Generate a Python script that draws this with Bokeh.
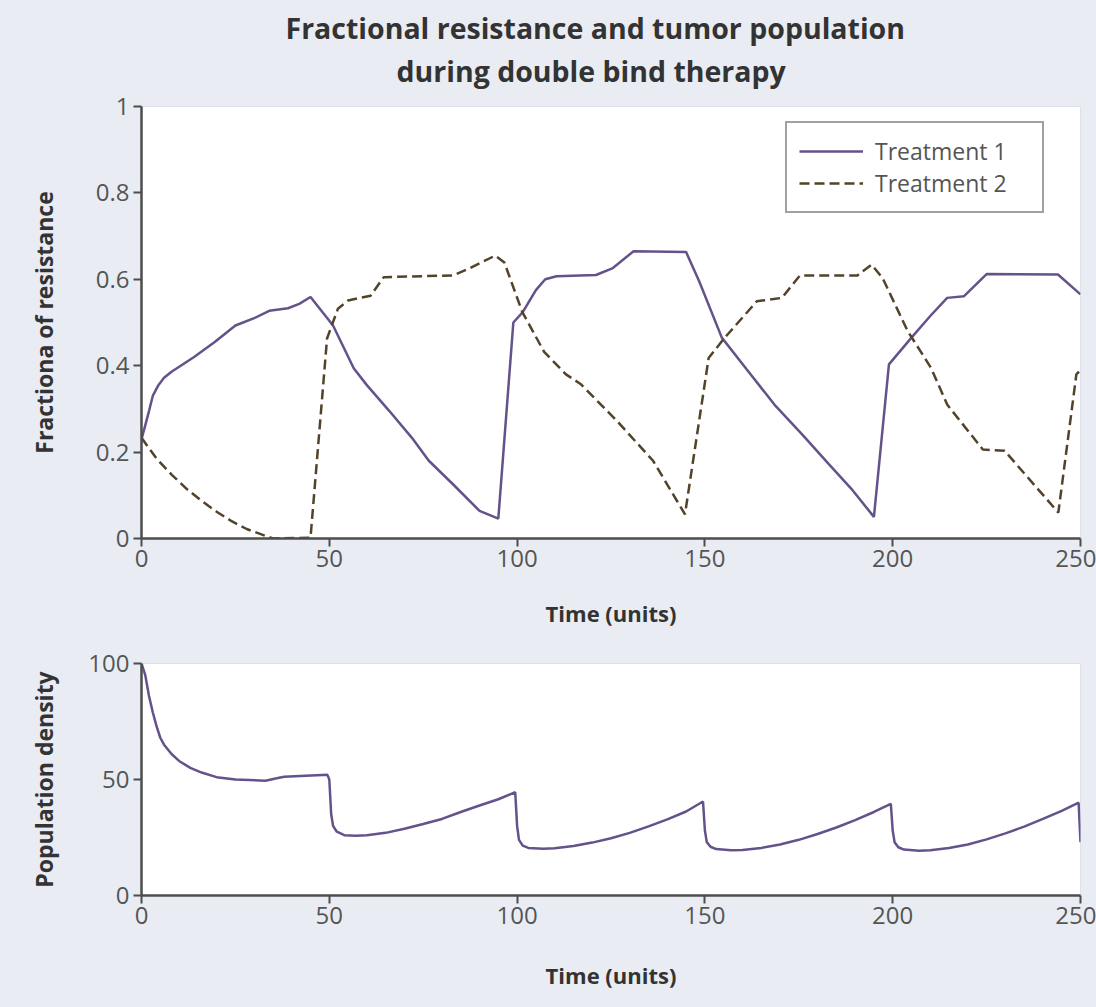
from bokeh.plotting import figure
from bokeh.models import Range1d, Title, Legend, LegendItem, FixedTicker
from bokeh.layouts import column
from bokeh.embed import file_html
from bokeh.resources import INLINE

# ---------------- data ----------------
t1_time = [0, 1, 2, 3, 4.5, 6, 8, 14, 19.5, 25, 30, 34, 39, 42, 45, 51, 56.5, 60, 66, 72, 76.5, 83, 90, 95,
           99, 101.5, 105, 107.5, 110.5, 121, 125.5, 131, 145, 148.5, 154.5, 161, 168.5, 176, 183, 189, 195,
           199, 205, 210, 214.5, 219, 225, 244, 250]
t1_frac = [0.23, 0.262, 0.295, 0.33, 0.355, 0.372, 0.386, 0.42, 0.455, 0.493, 0.51, 0.527, 0.533, 0.543, 0.559,
           0.493, 0.394, 0.355, 0.295, 0.233, 0.18, 0.125, 0.064, 0.046,
           0.50, 0.524, 0.575, 0.60, 0.607, 0.61, 0.626, 0.665, 0.663, 0.595, 0.465, 0.393, 0.31, 0.24, 0.172, 0.115,
           0.05, 0.403, 0.465, 0.515, 0.557, 0.561, 0.612, 0.611, 0.565]

t2_time = [0, 4, 8, 12, 16, 20, 24, 28, 33, 35, 45, 49.4, 52.3, 55, 61, 64.5, 83, 87, 94.2, 96.6,
           101.4, 107.2, 113, 117, 126.6, 136.2, 144.7, 151, 155.3, 163.8, 170.5, 175.3, 190.6, 194.4, 197.3,
           204, 210.2, 214.5, 224, 229.8, 244.1, 248.9, 250]
t2_frac = [0.233, 0.185, 0.148, 0.115, 0.087, 0.062, 0.04, 0.022, 0.006, 0.0, 0.002, 0.463, 0.532, 0.551, 0.562,
           0.605, 0.609, 0.624, 0.655, 0.639,
           0.524, 0.432, 0.38, 0.357, 0.272, 0.18, 0.056, 0.418, 0.465, 0.549, 0.557, 0.609, 0.609, 0.634, 0.603,
           0.48, 0.395, 0.31, 0.206, 0.203, 0.06, 0.38, 0.39]

pop_time = [0, 1, 2, 3, 4, 5, 6, 8, 10, 13, 16, 20, 25, 33, 36, 38, 49.5,
            50, 50.5, 51, 52, 54, 57, 60, 65, 70, 75, 80, 85, 90, 95, 99.5,
            100, 100.5, 101.5, 103, 107, 110, 115, 120, 125, 130, 135, 140, 145, 149.5,
            150, 150.5, 151.5, 153, 157, 160, 165, 170, 175, 180, 185, 190, 195, 199.5,
            200, 200.5, 201.5, 203, 207, 210, 215, 220, 225, 230, 235, 240, 245, 249.5, 250]
pop_density = [100, 95, 86, 79, 73, 68, 65, 61, 58, 55, 53, 51, 50, 49.5, 50.5, 51.2, 52,
               50, 35, 30, 27.5, 26, 25.8, 26, 27, 28.8, 30.8, 33, 36, 38.8, 41.5, 44.5,
               30, 24, 21.5, 20.5, 20.2, 20.4, 21.3, 22.8, 24.7, 27, 29.8, 32.8, 36.2, 40.5,
               28, 23, 21, 20, 19.5, 19.6, 20.5, 22, 24, 26.5, 29.3, 32.5, 36, 39.5,
               28, 23, 20.8, 19.8, 19.3, 19.5, 20.5, 22, 24.2, 26.8, 29.7, 33, 36.5, 40, 23]

x_ticks = [0, 50, 100, 150, 200, 250]
frac_ticks = [0, 0.2, 0.4, 0.6, 0.8, 1]
frac_tick_labels = ["0", "0.2", "0.4", "0.6", "0.8", "1"]
pop_ticks = [0, 50, 100]

title_line1 = "Fractional resistance and tumor population"
title_line2 = "during double bind therapy"
series_names = ["Treatment 1", "Treatment 2"]

# ---------------- style ----------------
BG = "#e9edf3"
FONT = "Open Sans"
PURPLE = "#64528a"
DASHCOL = "#52432a"
AXIS = "#4d4d4d"


def style_axes(p):
    for ax in (p.xaxis[0], p.yaxis[0]):
        ax.axis_line_color = AXIS
        ax.axis_line_width = 2.5
        ax.major_tick_line_color = AXIS
        ax.major_tick_line_width = 2
        ax.major_tick_out = 8
        ax.major_tick_in = 0
        ax.minor_tick_line_color = None
        ax.major_label_text_font = FONT
        ax.major_label_text_font_size = "24px"
        ax.major_label_text_color = "#555555"
        ax.axis_label_text_font = FONT
        ax.axis_label_text_font_style = "bold"
        ax.axis_label_text_color = "#333333"
    p.xaxis[0].axis_label_text_font_size = "22px"
    p.yaxis[0].axis_label_text_font_size = "23px"
    p.xgrid.grid_line_color = None
    p.ygrid.grid_line_color = None
    p.xaxis[0].ticker = FixedTicker(ticks=x_ticks)
    p.xaxis[0].major_label_standoff = 3
    p.yaxis[0].major_label_standoff = 4


# ---------------- top plot ----------------
p1 = figure(width=1096, height=630, output_backend="svg", toolbar_location=None,
            x_range=Range1d(0, 250), y_range=Range1d(0, 1),
            min_border_left=141, min_border_right=16, min_border_top=106, min_border_bottom=92,
            x_axis_label="Time (units)", y_axis_label="Fractiona of resistance")
p1.background_fill_color = "white"
p1.border_fill_color = BG
p1.outline_line_color = "#dde2ea"
style_axes(p1)
p1.yaxis[0].ticker = FixedTicker(ticks=frac_ticks)
p1.yaxis[0].major_label_overrides = {v: s for v, s in zip(frac_ticks, frac_tick_labels)}
p1.xaxis[0].axis_label_standoff = 28
p1.yaxis[0].axis_label_standoff = 33

r1 = p1.line(t1_time, t1_frac, line_color=PURPLE, line_width=2.5)
r2 = p1.line(t2_time, t2_frac, line_color=DASHCOL, line_width=2.5, line_dash="10 5")

legend = Legend(items=[LegendItem(label=series_names[0], renderers=[r1]),
                       LegendItem(label=series_names[1], renderers=[r2])],
                location=(644, 325))
legend.border_line_color = "#444444"
legend.border_line_width = 2
legend.background_fill_color = "white"
legend.background_fill_alpha = 1
legend.padding = 12
legend.spacing = 0
legend.label_height = 26
legend.glyph_height = 26
legend.glyph_width = 64
legend.label_standoff = 12
legend.label_width = 155
legend.label_text_font = FONT
legend.label_text_font_size = "23px"
legend.label_text_color = "#555555"
legend.margin = 0
p1.add_layout(legend, "center")

t2 = Title(text=title_line2, align="left", text_font=FONT, text_font_size="28.5px",
           text_font_style="bold", text_color="#333333", standoff=33, offset=255)
t1 = Title(text=title_line1, align="left", text_font=FONT, text_font_size="28.5px",
           text_font_style="bold", text_color="#333333", standoff=-26, offset=144)
p1.add_layout(t2, "above")
p1.add_layout(t1, "above")

# ---------------- bottom plot ----------------
p2 = figure(width=1096, height=377, output_backend="svg", toolbar_location=None,
            x_range=Range1d(0, 250), y_range=Range1d(0, 100),
            min_border_left=141, min_border_right=16, min_border_top=33, min_border_bottom=112,
            x_axis_label="Time (units)", y_axis_label="Population density")
p2.background_fill_color = "white"
p2.border_fill_color = BG
p2.outline_line_color = "#dde2ea"
style_axes(p2)
p2.yaxis[0].ticker = FixedTicker(ticks=pop_ticks)
p2.xaxis[0].axis_label_standoff = 33
p2.yaxis[0].axis_label_standoff = 25

p2.line(pop_time, pop_density, line_color=PURPLE, line_width=2.5)

layout = column(p1, p2, spacing=0)
layout.styles = {"background-color": BG}

html = file_html(layout, INLINE)
html = html.replace("<head>", "<head><style>html, body { background: %s; }</style>" % BG, 1)
open("out.html", "w").write(html)
